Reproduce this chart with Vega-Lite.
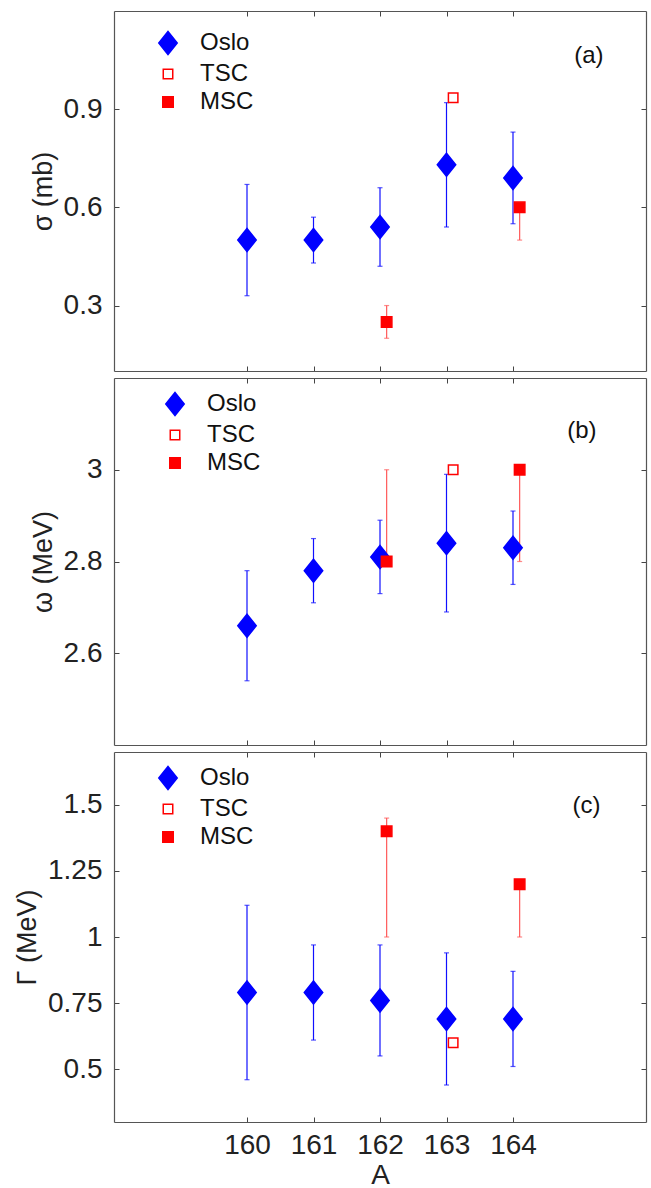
{
  "$schema": "https://vega.github.io/schema/vega-lite/v6.json",
  "padding": {"left": 13, "top": 10, "right": 4, "bottom": 0},
  "background": "white",
  "spacing": 7,
  "bounds": "flush",
  "datasets": {
    "pts": [
      {"panel": "a", "series": "Oslo", "A": 160, "v": 0.50, "lo": 0.33, "hi": 0.67},
      {"panel": "a", "series": "Oslo", "A": 161, "v": 0.50, "lo": 0.43, "hi": 0.57},
      {"panel": "a", "series": "Oslo", "A": 162, "v": 0.54, "lo": 0.42, "hi": 0.66},
      {"panel": "a", "series": "Oslo", "A": 163, "v": 0.73, "lo": 0.54, "hi": 0.92},
      {"panel": "a", "series": "Oslo", "A": 164, "v": 0.69, "lo": 0.55, "hi": 0.83},
      {"panel": "a", "series": "TSC", "A": 163.1, "v": 0.935, "lo": null, "hi": null},
      {"panel": "a", "series": "MSC", "A": 162.1, "v": 0.25, "lo": 0.20, "hi": 0.30},
      {"panel": "a", "series": "MSC", "A": 164.1, "v": 0.60, "lo": 0.50, "hi": 0.60},
      {"panel": "b", "series": "Oslo", "A": 160, "v": 2.66, "lo": 2.54, "hi": 2.78},
      {"panel": "b", "series": "Oslo", "A": 161, "v": 2.78, "lo": 2.71, "hi": 2.85},
      {"panel": "b", "series": "Oslo", "A": 162, "v": 2.81, "lo": 2.73, "hi": 2.89},
      {"panel": "b", "series": "Oslo", "A": 163, "v": 2.84, "lo": 2.69, "hi": 2.99},
      {"panel": "b", "series": "Oslo", "A": 164, "v": 2.83, "lo": 2.75, "hi": 2.91},
      {"panel": "b", "series": "TSC", "A": 163.1, "v": 3.0, "lo": null, "hi": null},
      {"panel": "b", "series": "MSC", "A": 162.1, "v": 2.8, "lo": 2.8, "hi": 3.0},
      {"panel": "b", "series": "MSC", "A": 164.1, "v": 3.0, "lo": 2.8, "hi": 3.0},
      {"panel": "c", "series": "Oslo", "A": 160, "v": 0.79, "lo": 0.46, "hi": 1.12},
      {"panel": "c", "series": "Oslo", "A": 161, "v": 0.79, "lo": 0.61, "hi": 0.97},
      {"panel": "c", "series": "Oslo", "A": 162, "v": 0.76, "lo": 0.55, "hi": 0.97},
      {"panel": "c", "series": "Oslo", "A": 163, "v": 0.69, "lo": 0.44, "hi": 0.94},
      {"panel": "c", "series": "Oslo", "A": 164, "v": 0.69, "lo": 0.51, "hi": 0.87},
      {"panel": "c", "series": "TSC", "A": 163.1, "v": 0.60, "lo": null, "hi": null},
      {"panel": "c", "series": "MSC", "A": 162.1, "v": 1.40, "lo": 1.00, "hi": 1.45},
      {"panel": "c", "series": "MSC", "A": 164.1, "v": 1.20, "lo": 1.00, "hi": 1.20}
    ]
  },
  "config": {
    "font": "Liberation Sans",
    "view": {"stroke": null},
    "axis": {
      "grid": false,
      "domainColor": "#555555",
      "domainWidth": 1.2,
      "tickColor": "#444444",
      "tickWidth": 1,
      "tickSize": -5,
      "labelFont": "Liberation Sans",
      "labelFontSize": 28,
      "labelColor": "#222222",
      "labelPadding": 17,
      "labelExpr": "'' + datum.value",
      "titleFont": "Liberation Sans",
      "titleFontSize": 27,
      "titleFontWeight": "normal",
      "titleColor": "#222222",
      "titlePadding": 6
    },
    "legend": {
      "orient": "none",
      "title": null,
      "padding": 0,
      "labelFont": "Liberation Sans",
      "labelFontSize": 24,
      "labelColor": "#111111",
      "labelOffset": 20,
      "rowPadding": 4,
      "symbolStrokeWidth": 1.5
    },
    "title": {"font": "Liberation Sans", "fontSize": 24, "fontWeight": "normal", "color": "#111111", "anchor": "end", "baseline": "alphabetic"}
  },
  "resolve": {"scale": {"shape": "independent", "fill": "independent", "stroke": "independent", "size": "independent"}},
  "vconcat": [
    {
      "width": 532,
      "height": 360,
      "title": {"text": "(a)", "offset": -57, "dx": -43},
      "data": {"name": "pts"},
      "transform": [{"filter": "datum.panel === 'a'"}],
      "layer": [
        {
          "transform": [{"filter": "datum.lo != null"}],
          "mark": {"type": "rule", "strokeWidth": 1.2},
          "encoding": {
            "x": {"field": "A", "type": "quantitative", "scale": {"domain": [158, 166]}, "axis": {"orient": "bottom", "values": [160, 161, 162, 163, 164], "labels": false, "title": null}},
            "y": {"field": "lo", "type": "quantitative", "scale": {"domain": [0.1, 1.2]}, "axis": {"orient": "left", "values": [0.3, 0.6, 0.9], "title": "σ (mb)"}},
            "y2": {"field": "hi"},
            "color": {"condition": {"test": "datum.series === 'Oslo'", "value": "#1010ff"}, "value": "#ff5a5a"}
          }
        },
        {
          "transform": [{"filter": "datum.lo != null"}],
          "mark": {"type": "tick", "orient": "horizontal", "size": 5, "thickness": 1.2},
          "encoding": {
            "x": {"field": "A", "type": "quantitative", "axis": null},
            "y": {"field": "lo", "type": "quantitative", "axis": null},
            "color": {"condition": {"test": "datum.series === 'Oslo'", "value": "#1010ff"}, "value": "#ff5a5a"}
          }
        },
        {
          "transform": [{"filter": "datum.hi != null"}],
          "mark": {"type": "tick", "orient": "horizontal", "size": 5, "thickness": 1.2},
          "encoding": {
            "x": {"field": "A", "type": "quantitative", "axis": null},
            "y": {"field": "hi", "type": "quantitative", "axis": null},
            "color": {"condition": {"test": "datum.series === 'Oslo'", "value": "#1010ff"}, "value": "#ff5a5a"}
          }
        },
        {
          "mark": {"type": "point", "filled": true, "opacity": 1, "strokeWidth": 1.5},
          "encoding": {
            "x": {"field": "A", "type": "quantitative", "axis": {"orient": "top", "values": [160, 161, 162, 163, 164], "labels": false, "title": null}},
            "y": {"field": "v", "type": "quantitative", "axis": {"orient": "right", "values": [0.3, 0.6, 0.9], "labels": false, "title": null}},
            "shape": {"field": "series", "type": "nominal", "scale": {"domain": ["Oslo", "TSC", "MSC"], "range": ["M0,-1.25L1,0L0,1.25L-1,0Z", "square", "square"]}, "legend": {"legendX": 42, "legendY": 20}},
            "fill": {"field": "series", "type": "nominal", "scale": {"domain": ["Oslo", "TSC", "MSC"], "range": ["#0000ff", "#ffffff", "#ff0000"]}, "legend": {"legendX": 42, "legendY": 20}},
            "stroke": {"field": "series", "type": "nominal", "scale": {"domain": ["Oslo", "TSC", "MSC"], "range": ["#0000ff", "#ff0000", "#ff0000"]}, "legend": {"legendX": 42, "legendY": 20}},
            "size": {"field": "series", "type": "nominal", "scale": {"type": "ordinal", "domain": ["Oslo", "TSC", "MSC"], "range": [340, 90, 110]}, "legend": {"legendX": 42, "legendY": 20}}
          }
        }
      ],
      "resolve": {"axis": {"x": "independent", "y": "independent"}}
    },
    {
      "width": 532,
      "height": 367,
      "title": {"text": "(b)", "offset": -65, "dx": -50},
      "data": {"name": "pts"},
      "transform": [{"filter": "datum.panel === 'b'"}],
      "layer": [
        {
          "transform": [{"filter": "datum.lo != null"}],
          "mark": {"type": "rule", "strokeWidth": 1.2},
          "encoding": {
            "x": {"field": "A", "type": "quantitative", "scale": {"domain": [158, 166]}, "axis": {"orient": "bottom", "values": [160, 161, 162, 163, 164], "labels": false, "title": null}},
            "y": {"field": "lo", "type": "quantitative", "scale": {"domain": [2.4, 3.2]}, "axis": {"orient": "left", "values": [2.6, 2.8, 3.0], "title": "ω (MeV)"}},
            "y2": {"field": "hi"},
            "color": {"condition": {"test": "datum.series === 'Oslo'", "value": "#1010ff"}, "value": "#ff5a5a"}
          }
        },
        {
          "transform": [{"filter": "datum.lo != null"}],
          "mark": {"type": "tick", "orient": "horizontal", "size": 5, "thickness": 1.2},
          "encoding": {
            "x": {"field": "A", "type": "quantitative", "axis": null},
            "y": {"field": "lo", "type": "quantitative", "axis": null},
            "color": {"condition": {"test": "datum.series === 'Oslo'", "value": "#1010ff"}, "value": "#ff5a5a"}
          }
        },
        {
          "transform": [{"filter": "datum.hi != null"}],
          "mark": {"type": "tick", "orient": "horizontal", "size": 5, "thickness": 1.2},
          "encoding": {
            "x": {"field": "A", "type": "quantitative", "axis": null},
            "y": {"field": "hi", "type": "quantitative", "axis": null},
            "color": {"condition": {"test": "datum.series === 'Oslo'", "value": "#1010ff"}, "value": "#ff5a5a"}
          }
        },
        {
          "mark": {"type": "point", "filled": true, "opacity": 1, "strokeWidth": 1.5},
          "encoding": {
            "x": {"field": "A", "type": "quantitative", "axis": {"orient": "top", "values": [160, 161, 162, 163, 164], "labels": false, "title": null}},
            "y": {"field": "v", "type": "quantitative", "axis": {"orient": "right", "values": [2.6, 2.8, 3.0], "labels": false, "title": null}},
            "shape": {"field": "series", "type": "nominal", "scale": {"domain": ["Oslo", "TSC", "MSC"], "range": ["M0,-1.25L1,0L0,1.25L-1,0Z", "square", "square"]}, "legend": {"legendX": 49, "legendY": 14}},
            "fill": {"field": "series", "type": "nominal", "scale": {"domain": ["Oslo", "TSC", "MSC"], "range": ["#0000ff", "#ffffff", "#ff0000"]}, "legend": {"legendX": 49, "legendY": 14}},
            "stroke": {"field": "series", "type": "nominal", "scale": {"domain": ["Oslo", "TSC", "MSC"], "range": ["#0000ff", "#ff0000", "#ff0000"]}, "legend": {"legendX": 49, "legendY": 14}},
            "size": {"field": "series", "type": "nominal", "scale": {"type": "ordinal", "domain": ["Oslo", "TSC", "MSC"], "range": [340, 90, 110]}, "legend": {"legendX": 49, "legendY": 14}}
          }
        }
      ],
      "resolve": {"axis": {"x": "independent", "y": "independent"}}
    },
    {
      "width": 532,
      "height": 370,
      "title": {"text": "(c)", "offset": -66, "dx": -46},
      "data": {"name": "pts"},
      "transform": [{"filter": "datum.panel === 'c'"}],
      "layer": [
        {
          "transform": [{"filter": "datum.lo != null"}],
          "mark": {"type": "rule", "strokeWidth": 1.2},
          "encoding": {
            "x": {"field": "A", "type": "quantitative", "scale": {"domain": [158, 166]}, "axis": {"orient": "bottom", "values": [160, 161, 162, 163, 164], "labelPadding": 14, "title": "A", "titleFontSize": 28, "titlePadding": 2}},
            "y": {"field": "lo", "type": "quantitative", "scale": {"domain": [0.3, 1.7]}, "axis": {"orient": "left", "values": [0.5, 0.75, 1.0, 1.25, 1.5], "title": "Γ (MeV)"}},
            "y2": {"field": "hi"},
            "color": {"condition": {"test": "datum.series === 'Oslo'", "value": "#1010ff"}, "value": "#ff5a5a"}
          }
        },
        {
          "transform": [{"filter": "datum.lo != null"}],
          "mark": {"type": "tick", "orient": "horizontal", "size": 5, "thickness": 1.2},
          "encoding": {
            "x": {"field": "A", "type": "quantitative", "axis": null},
            "y": {"field": "lo", "type": "quantitative", "axis": null},
            "color": {"condition": {"test": "datum.series === 'Oslo'", "value": "#1010ff"}, "value": "#ff5a5a"}
          }
        },
        {
          "transform": [{"filter": "datum.hi != null"}],
          "mark": {"type": "tick", "orient": "horizontal", "size": 5, "thickness": 1.2},
          "encoding": {
            "x": {"field": "A", "type": "quantitative", "axis": null},
            "y": {"field": "hi", "type": "quantitative", "axis": null},
            "color": {"condition": {"test": "datum.series === 'Oslo'", "value": "#1010ff"}, "value": "#ff5a5a"}
          }
        },
        {
          "mark": {"type": "point", "filled": true, "opacity": 1, "strokeWidth": 1.5},
          "encoding": {
            "x": {"field": "A", "type": "quantitative", "axis": {"orient": "top", "values": [160, 161, 162, 163, 164], "labels": false, "title": null}},
            "y": {"field": "v", "type": "quantitative", "axis": {"orient": "right", "values": [0.5, 0.75, 1.0, 1.25, 1.5], "labels": false, "title": null}},
            "shape": {"field": "series", "type": "nominal", "scale": {"domain": ["Oslo", "TSC", "MSC"], "range": ["M0,-1.25L1,0L0,1.25L-1,0Z", "square", "square"]}, "legend": {"legendX": 42, "legendY": 14}},
            "fill": {"field": "series", "type": "nominal", "scale": {"domain": ["Oslo", "TSC", "MSC"], "range": ["#0000ff", "#ffffff", "#ff0000"]}, "legend": {"legendX": 42, "legendY": 14}},
            "stroke": {"field": "series", "type": "nominal", "scale": {"domain": ["Oslo", "TSC", "MSC"], "range": ["#0000ff", "#ff0000", "#ff0000"]}, "legend": {"legendX": 42, "legendY": 14}},
            "size": {"field": "series", "type": "nominal", "scale": {"type": "ordinal", "domain": ["Oslo", "TSC", "MSC"], "range": [340, 90, 110]}, "legend": {"legendX": 42, "legendY": 14}}
          }
        }
      ],
      "resolve": {"axis": {"x": "independent", "y": "independent"}}
    }
  ]
}
